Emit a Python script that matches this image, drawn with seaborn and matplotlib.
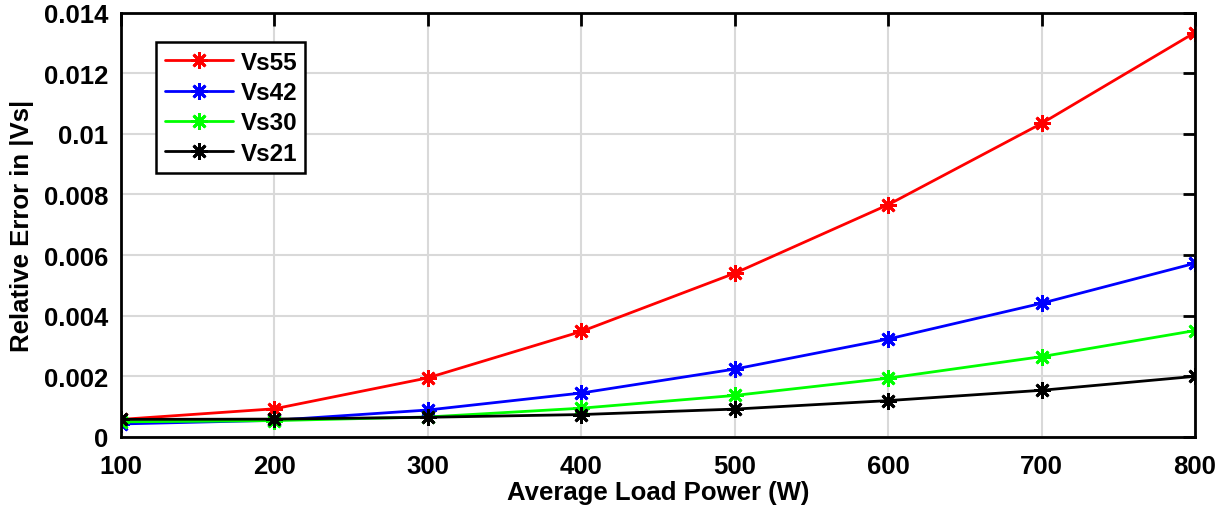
import matplotlib
matplotlib.use("Agg")
import matplotlib.pyplot as plt
import seaborn as sns
import pandas as pd
from matplotlib.ticker import FuncFormatter

power = [100, 200, 300, 400, 500, 600, 700, 800]
vs55 = [0.00058, 0.00093, 0.00195, 0.00348, 0.00540, 0.00766, 0.01034, 0.01334]
vs42 = [0.00043, 0.00055, 0.00089, 0.00145, 0.00224, 0.00323, 0.00441, 0.00573]
vs30 = [0.00050, 0.00054, 0.00066, 0.00095, 0.00137, 0.00194, 0.00265, 0.00351]
vs21 = [0.00058, 0.00059, 0.00065, 0.00074, 0.00092, 0.00120, 0.00154, 0.00200]
series_names = ["Vs55", "Vs42", "Vs30", "Vs21"]
series_vals = [vs55, vs42, vs30, vs21]
colors = ["#ff0000", "#0000ff", "#00ff00", "#000000"]

sns.set_style("white")
plt.rcParams['font.family'] = ['Liberation Sans', 'DejaVu Sans']
plt.rcParams['font.weight'] = 'bold'
plt.rcParams['text.color'] = 'black'
plt.rcParams['axes.labelcolor'] = 'black'

fig = plt.figure(figsize=(12.29, 5.10), dpi=100)
ax = fig.add_axes([0.0985, 0.1412, 0.8738, 0.8323])

rows = []
for name, vals in zip(series_names, series_vals):
    for p, v in zip(power, vals):
        rows.append({"power": p, "err": v, "series": name})
df = pd.DataFrame(rows)

for name, col in zip(series_names, colors):
    sub = df[df.series == name]
    sns.lineplot(data=sub, x="power", y="err", ax=ax, color=col, linewidth=2.0,
                 marker=(8, 2, 0), markersize=12, markeredgewidth=2.0,
                 markeredgecolor=col, label=name)

ax.set_xlim(100, 800)
ax.set_ylim(0, 0.014)
ax.set_xticks(power)
ax.set_yticks([0, 0.002, 0.004, 0.006, 0.008, 0.01, 0.012, 0.014])
ax.yaxis.set_major_formatter(FuncFormatter(lambda v, p: "%g" % round(v, 6)))
ax.grid(True, color="#d9d9d9", linewidth=1.5)
ax.set_axisbelow(True)
for s in ax.spines.values():
    s.set_color("black")
    s.set_linewidth(2.0)
    s.set_visible(True)
ax.tick_params(direction="in", length=9, width=2.0, top=True, right=True,
               labelsize=18.5, colors="black")
ax.tick_params(axis="x", pad=12)
ax.tick_params(axis="y", pad=9)
for lab in ax.get_xticklabels() + ax.get_yticklabels():
    lab.set_fontweight("bold")
ax.set_xlabel("Average Load Power (W)", fontsize=18.5, fontweight="bold", labelpad=2)
ax.set_ylabel("Relative Error in |Vs|", fontsize=18.5, fontweight="bold", labelpad=7)

leg = ax.legend(loc="upper left", bbox_to_anchor=(0.033, 0.93),
                prop={"weight": "bold", "size": 17.5}, handlelength=2.8,
                frameon=True, fancybox=False, borderpad=0.35, labelspacing=0.3,
                handletextpad=0.3, borderaxespad=0)
leg.get_frame().set_edgecolor("black")
leg.get_frame().set_linewidth(1.8)
leg.get_frame().set_alpha(1)

fig.savefig("out.png", dpi=100)
